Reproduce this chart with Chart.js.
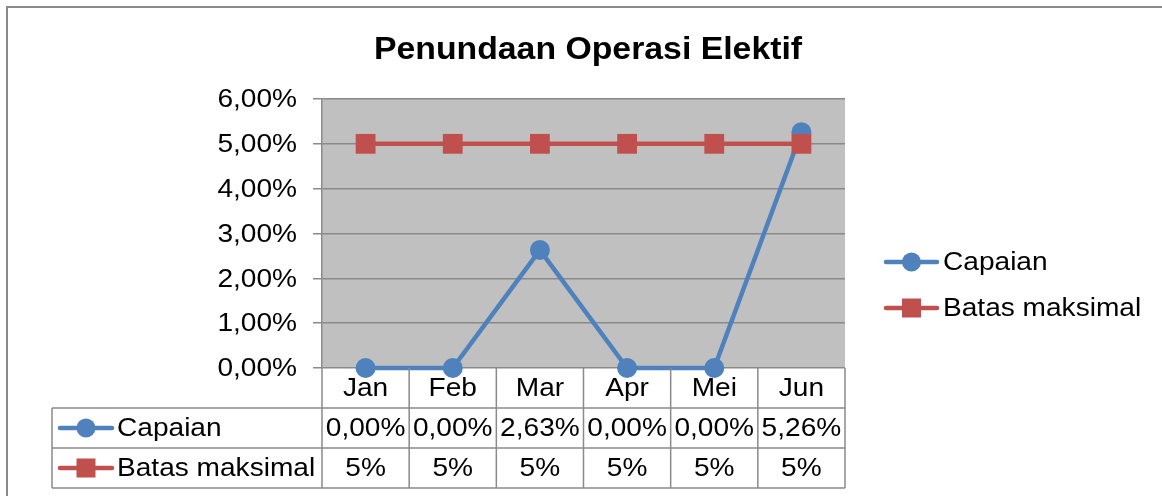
<!DOCTYPE html>
<html>
<head>
<meta charset="utf-8">
<script src="https://cdn.jsdelivr.net/npm/chart.js@4/dist/chart.umd.min.js"></script>
<style>
  body { margin: 0; background: #fff; }
  canvas { display: block; }
</style>
</head>
<body>
<canvas id="myChart" width="1162" height="496"></canvas>
<script>
'use strict';

const chartTitle = 'Penundaan Operasi Elektif';
const categories = ['Jan', 'Feb', 'Mar', 'Apr', 'Mei', 'Jun'];
const seriesNames = ['Capaian', 'Batas maksimal'];
const capaianValues = [0, 0, 2.63, 0, 0, 5.26];
const batasValues = [5, 5, 5, 5, 5, 5];
const yMin = 0;
const yMax = 6;
const yStep = 1;

const FONT = '"Liberation Sans", Arial, sans-serif';
const BLUE = '#4f81bd';
const RED = '#c0504d';
const GRID = '#8a8a8a';
// the source picture is a bit wider than tall, so text is too
const STRETCH = 1.08;

function pct2(v) {
  return v.toFixed(2).replace('.', ',') + '%';
}
function pct0(v) {
  return v + '%';
}
const tableFormats = [pct2, pct0];

function wideText(ctx, text, x, y, align, sx) {
  ctx.save();
  ctx.translate(x, y);
  ctx.scale(sx || STRETCH, 1);
  ctx.textAlign = align;
  ctx.textBaseline = 'middle';
  ctx.fillText(text, 0, 0);
  ctx.restore();
}

// line + marker, same look as the chart's series
function drawSymbol(ctx, ds, x1, x2, y) {
  ctx.save();
  ctx.strokeStyle = ds.borderColor;
  ctx.lineWidth = 4.5;
  ctx.lineCap = 'round';
  ctx.beginPath();
  ctx.moveTo(x1, y);
  ctx.lineTo(x2, y);
  ctx.stroke();
  const cx = (x1 + x2) / 2;
  ctx.fillStyle = ds.pointBackgroundColor;
  if (ds.pointStyle === 'circle') {
    ctx.beginPath();
    ctx.arc(cx, y, 9.5, 0, Math.PI * 2);
    ctx.fill();
  } else {
    ctx.fillRect(cx - 9.5, y - 9.5, 19, 19);
  }
  ctx.restore();
}

const sheetPlugin = {
  id: 'sheet',
  beforeDraw(chart) {
    const ctx = chart.ctx;
    const a = chart.chartArea;
    ctx.save();
    ctx.fillStyle = '#fff';
    ctx.fillRect(0, 0, chart.width, chart.height);
    // outer chart frame (only top and left are in view)
    ctx.strokeStyle = GRID;
    ctx.lineWidth = 2;
    ctx.beginPath();
    ctx.moveTo(chart.width, 7);
    ctx.lineTo(7, 7);
    ctx.lineTo(7, chart.height);
    ctx.stroke();
    // plot area fill
    ctx.fillStyle = '#c0c0c0';
    ctx.fillRect(a.left, a.top, a.right - a.left, a.bottom - a.top);
    ctx.restore();
  },
  afterDraw(chart) {
    const ctx = chart.ctx;
    const a = chart.chartArea;
    const xs = chart.scales.x;
    const ys = chart.scales.y;
    const band = (a.right - a.left) / categories.length;
    const rowH = 40;
    const tableLeft = 52;
    const top = a.bottom;
    const bottom = top + rowH * 3;

    ctx.save();

    // title
    ctx.fillStyle = '#000';
    ctx.font = 'bold 31px ' + FONT;
    wideText(ctx, chartTitle, 588, 50, 'center', 1.09);

    // y tick labels
    ctx.font = '26px ' + FONT;
    ys.ticks.forEach((t) => {
      wideText(ctx, pct2(t.value), a.left - 25, ys.getPixelForValue(t.value) + 1, 'right');
    });

    // data table grid
    ctx.strokeStyle = GRID;
    ctx.lineWidth = 1.5;
    ctx.beginPath();
    for (let r = 1; r <= 3; r++) {
      ctx.moveTo(tableLeft, top + r * rowH);
      ctx.lineTo(a.right, top + r * rowH);
    }
    ctx.moveTo(tableLeft, top + rowH);
    ctx.lineTo(tableLeft, bottom);
    for (let i = 0; i <= categories.length; i++) {
      const x = a.left + i * band;
      ctx.moveTo(x, top);
      ctx.lineTo(x, bottom);
    }
    ctx.stroke();

    // category row and values
    ctx.fillStyle = '#000';
    categories.forEach((c, i) => {
      wideText(ctx, c, xs.getPixelForValue(i), top + rowH / 2 + 1, 'center');
    });
    chart.data.datasets.forEach((ds, k) => {
      const cy = top + rowH * (k + 1) + rowH / 2;
      ds.data.forEach((v, i) => {
        wideText(ctx, tableFormats[k](v), xs.getPixelForValue(i), cy + 1, 'center');
      });
      drawSymbol(ctx, ds, 60, 112, cy);
      ctx.fillStyle = '#000';
      wideText(ctx, ds.label, 117, cy + 1, 'left');
    });

    // legend on the right
    chart.data.datasets.forEach((ds, k) => {
      const ly = 262 + k * 46;
      drawSymbol(ctx, ds, 886, 937, ly);
      ctx.fillStyle = '#000';
      wideText(ctx, ds.label, 943, ly + 1, 'left');
    });

    ctx.restore();
  }
};

const ctx = document.getElementById('myChart').getContext('2d');
const chart = new Chart(ctx, {
  type: 'line',
  data: {
    labels: categories,
    datasets: [{
      label: seriesNames[0],
      data: capaianValues,
      borderColor: BLUE,
      backgroundColor: BLUE,
      pointBackgroundColor: BLUE,
      pointBorderColor: BLUE,
      pointStyle: 'circle',
      pointRadius: 10,
      borderWidth: 4.5,
      pointBorderWidth: 0,
      order: 2,
      clip: false
    },
    {
      label: seriesNames[1],
      data: batasValues,
      borderColor: RED,
      backgroundColor: RED,
      pointBackgroundColor: RED,
      pointBorderColor: RED,
      pointStyle: 'rect',
      pointRadius: 14,
      borderWidth: 4.5,
      pointBorderWidth: 0,
      order: 1,
      clip: false
    }]
  },
  options: {
    responsive: false,
    animation: false,
    events: [],
    layout: {
      padding: { left: 0, top: 99, right: 317, bottom: 128 }
    },
    plugins: {
      legend: { display: false },
      title: { display: false },
      tooltip: { enabled: false }
    },
    scales: {
      x: {
        display: false,
        offset: true
      },
      y: {
        min: yMin,
        max: yMax,
        afterFit(scale) {
          scale.width = 322;
        },
        ticks: {
          stepSize: yStep,
          padding: 16,
          color: 'rgba(0,0,0,0)',
          font: { family: FONT, size: 22 },
          callback: (v) => pct2(v)
        },
        grid: {
          color: GRID,
          lineWidth: 1.5,
          tickLength: 9
        },
        border: { color: GRID, width: 1.5 }
      }
    }
  },
  plugins: [sheetPlugin]
});
</script>
</body>
</html>
